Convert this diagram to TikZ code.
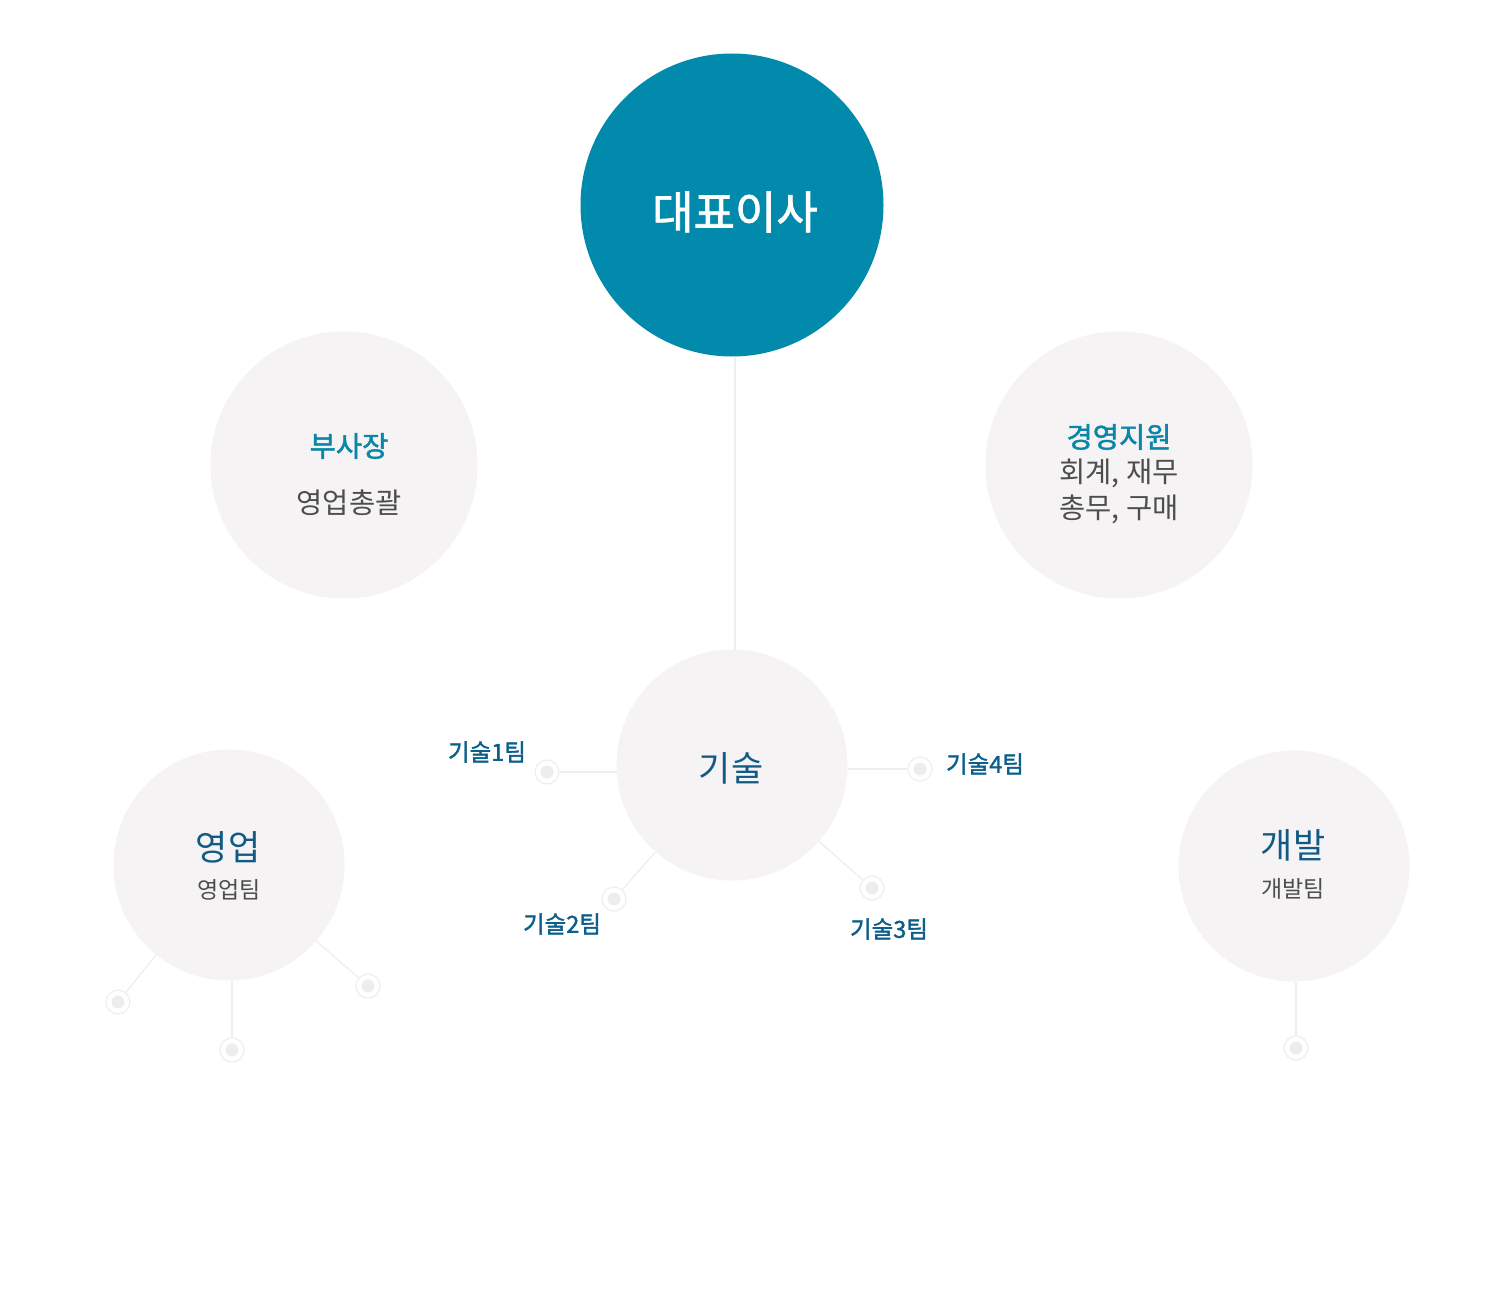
\documentclass[tikz,border=0pt]{standalone}
\usepackage{fontspec}
\setmainfont{Noto Sans CJK KR}
\newfontfamily\medfont[FakeBold=1.6]{Noto Sans CJK KR}
\definecolor{ceoc}{HTML}{028AAD}
\definecolor{bubc}{HTML}{F5F3F4}
\definecolor{linec}{HTML}{EFEEEF}
\definecolor{ringc}{HTML}{F0EEEF}
\definecolor{dotc}{HTML}{EEECED}
\definecolor{tealc}{HTML}{0A86A8}
\definecolor{navyc}{HTML}{115A84}
\definecolor{teamc}{HTML}{0C5F8B}
\definecolor{grayc}{HTML}{4D4D4D}
\tikzset{
  bubble/.style={circle, fill=bubc, draw=none, inner sep=0pt},
  tdot/.style={circle, minimum size=24pt, inner sep=0pt, draw=ringc, line width=1.2pt, fill=white,
    path picture={\fill[dotc] (path picture bounding box.center) circle (6.5pt);}},
  conn/.style={draw=linec, line width=1.2pt},
  teamlbl/.style={font=\fontsize{23.5}{28}\selectfont\medfont, text=teamc, inner sep=0pt},
  headA/.style={font=\fontsize{28.5}{34}\selectfont\medfont, text=tealc, inner sep=0pt},
  subA/.style={font=\fontsize{28.5}{36}\selectfont, text=grayc, inner sep=0pt, align=center},
  headB/.style={font=\fontsize{35}{40}\selectfont, text=navyc, inner sep=0pt},
  subB/.style={font=\fontsize{23}{27}\selectfont, text=grayc, inner sep=0pt}
}
\begin{document}
\begin{tikzpicture}[x=1pt,y=-1pt]
\useasboundingbox (0,0) rectangle (1500,1300);
\fill[white] (0,0) rectangle (1500,1300);
% main circles
\node[circle, fill=ceoc, minimum size=303pt, inner sep=0pt] (ceo) at (732,205) {};
\node[bubble, minimum size=267pt] (vp) at (344,465) {};
\node[bubble, minimum size=267pt] (mgmt) at (1119,465) {};
\node[bubble, minimum size=231pt] (gisul) at (732,765) {};
\node[bubble, minimum size=231pt] (sales) at (229,865) {};
\node[bubble, minimum size=231pt] (dev) at (1294,866) {};
% dots
\node[tdot] (d1) at (547,772) {};
\node[tdot] (d2) at (614,899) {};
\node[tdot] (d3) at (872,888) {};
\node[tdot] (d4) at (920,769) {};
\node[tdot] (s1) at (118,1002) {};
\node[tdot] (s2) at (232,1050) {};
\node[tdot] (s3) at (368,986) {};
\node[tdot] (v1) at (1296,1048) {};
% connectors
\coordinate (ceoB) at (735,357);
\coordinate (gisT) at (735,650);
\draw[conn] (ceoB) -- (gisT);
\coordinate (g1) at (617,772);
\draw[conn] (g1) -- (d1);
\coordinate (g4) at (848,769);
\draw[conn] (g4) -- (d4);
\draw[conn] (gisul) -- (d2);
\draw[conn] (gisul) -- (d3);
\draw[conn] (sales) -- (s1);
\coordinate (sB) at (232,981);
\draw[conn] (sB) -- (s2);
\draw[conn] (sales) -- (s3);
\coordinate (vB) at (1296,982);
\draw[conn] (vB) -- (v1);
% texts
\node[font=\fontsize{45}{50}\selectfont\medfont, text=white, inner sep=0pt] (ceoT) at (735,212) {대표이사};
\node[headA] (vpT) at (349,446) {부사장};
\node[subA] (vpS) at (349,503) {영업총괄};
\node[headA] (mgT) at (1119,437) {경영지원};
\node[subA] (mgS) at (1119,491) {회계, 재무\\총무, 구매};
\node[headB] (giT) at (731,768) {기술};
\node[headB] (saT) at (228,847) {영업};
\node[subB] (saS) at (229,890) {영업팀};
\node[headB] (dvT) at (1293,845) {개발};
\node[subB] (dvS) at (1293,889) {개발팀};
\node[teamlbl] (t1) at (487,752) {기술1팀};
\node[teamlbl] (t2) at (562,924) {기술2팀};
\node[teamlbl] (t3) at (889,929) {기술3팀};
\node[teamlbl] (t4) at (985,764) {기술4팀};
\end{tikzpicture}
\end{document}
